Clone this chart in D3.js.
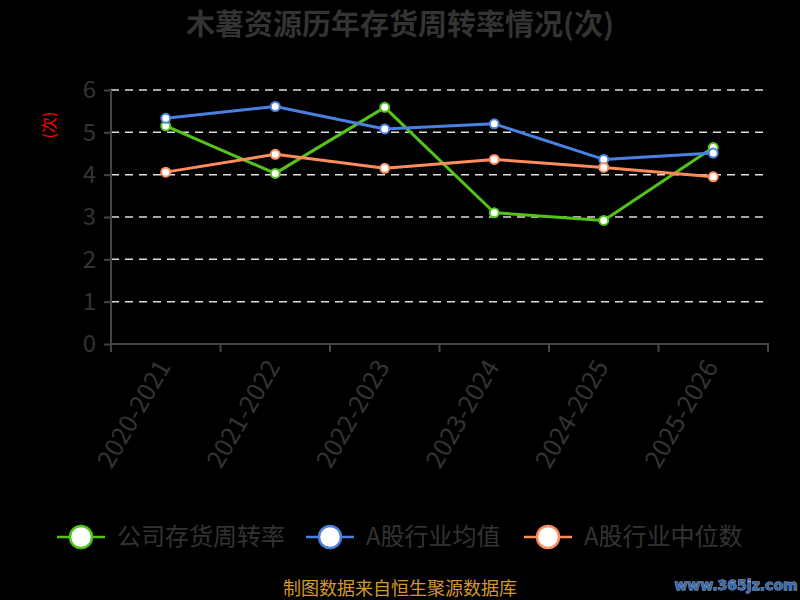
<!DOCTYPE html>
<html><head><meta charset="utf-8">
<script src="https://cdn.jsdelivr.net/npm/d3@7"></script>
<style>html,body{margin:0;padding:0;background:#000;}svg{display:block;}</style>
</head><body>
<svg id="c" width="800" height="600"></svg>
<script>
const categories = ["2020-2021","2021-2022","2022-2023","2023-2024","2024-2025","2025-2026"];
const companyTurnover = [5.15, 4.03, 5.59, 3.10, 2.92, 4.64];
const industryMean = [5.33, 5.61, 5.08, 5.20, 4.36, 4.51];
const industryMedian = [4.06, 4.48, 4.15, 4.36, 4.17, 3.95];
const yTicks = [0,1,2,3,4,5,6];
const seriesNames = ["公司存货周转率","A股行业均值","A股行业中位数"];
const seriesColors = ["#52c41a","#4a80e0","#ff8c5a"];

const series = [companyTurnover, industryMean, industryMedian];
const font = "'Noto Sans CJK SC','Noto Sans',sans-serif";
const svg = d3.select("#c");
svg.append("rect").attr("width",800).attr("height",600).attr("fill","#000");

const L=111, R=768, T=90, B=344;
const x = d3.scaleBand().domain(categories).range([L,R]);
const y = d3.scaleLinear().domain([0,6]).range([B,T]);

// title
svg.append("text").attr("x",400).attr("y",35).attr("text-anchor","middle")
  .attr("font-family",font).attr("font-weight","bold").attr("font-size",29)
  .attr("fill","#333").text("木薯资源历年存货周转率情况(次)");

// grid
svg.append("g").selectAll("line").data(yTicks.filter(d=>d>0)).join("line")
  .attr("x1",L).attr("x2",R).attr("y1",d=>y(d)).attr("y2",d=>y(d))
  .attr("stroke","#ddd").attr("stroke-width",1.5).attr("stroke-dasharray","8,6");

// y axis
const ya = svg.append("g").attr("transform",`translate(${L},0)`)
  .call(d3.axisLeft(y).tickValues(yTicks).tickFormat(d3.format("d")).tickSize(7).tickPadding(8));
ya.select(".domain").attr("stroke","#444").attr("stroke-width",2).attr("d",`M0,${T}V${B+8}`);
ya.selectAll(".tick line").attr("stroke","#444").attr("stroke-width",2);
ya.selectAll("text").attr("fill","#333").attr("font-size",24).attr("font-family",font);

// x axis
const xa = svg.append("g").attr("transform",`translate(0,${B})`)
  .call(d3.axisBottom(x).tickSize(0).tickFormat(""));
xa.select(".domain").attr("stroke","#444").attr("stroke-width",2).attr("d",`M${L},8V0H${R}V8`);
const bounds = categories.map(c=>x(c)).concat([R]);
xa.selectAll(".bt").data(bounds).join("line").attr("class","bt")
  .attr("x1",d=>d).attr("x2",d=>d).attr("y1",0).attr("y2",8)
  .attr("stroke","#444").attr("stroke-width",2);
svg.append("g").selectAll("text").data(categories).join("text")
  .attr("transform",d=>`translate(${x(d)+x.bandwidth()/2-2},${B+18}) rotate(-60)`)
  .attr("text-anchor","end").attr("dy","0.35em")
  .attr("font-family",font).attr("font-size",25).attr("fill","#333").text(d=>d);

// y label
svg.append("text").attr("transform","translate(49,125) rotate(-90)")
  .attr("text-anchor","middle").attr("dy","0.35em")
  .attr("font-family",font).attr("font-size",16).attr("fill","red").text("(次)");

// lines
const line = d3.line().x((d,i)=>x(categories[i])+x.bandwidth()/2).y(d=>y(d));
series.forEach((s,k)=>{
  svg.append("path").datum(s).attr("d",line).attr("fill","none")
    .attr("stroke",seriesColors[k]).attr("stroke-width",3).attr("stroke-linejoin","round");
});
series.forEach((s,k)=>{
  svg.append("g").selectAll("circle").data(s).join("circle")
    .attr("cx",(d,i)=>x(categories[i])+x.bandwidth()/2).attr("cy",d=>y(d)).attr("r",4.5)
    .attr("fill","#fff").attr("stroke",seriesColors[k]).attr("stroke-width",2);
});

// legend
const legX = [57, 306, 524];
seriesNames.forEach((n,k)=>{
  const g = svg.append("g").attr("transform",`translate(${legX[k]},537)`);
  g.append("line").attr("x1",0).attr("x2",48).attr("stroke",seriesColors[k]).attr("stroke-width",2.5);
  g.append("circle").attr("cx",24).attr("r",11).attr("fill","#fff").attr("stroke",seriesColors[k]).attr("stroke-width",2.5);
  g.append("text").attr("x",60).attr("dy","0.35em").attr("font-family",font)
    .attr("font-size",24).attr("fill","#333").text(n);
});

// footer
svg.append("text").attr("x",400).attr("y",595).attr("text-anchor","middle")
  .attr("font-family",font).attr("font-size",18).attr("fill","#d4982a").text("制图数据来自恒生聚源数据库");
svg.append("text").attr("x",736).attr("y",590).attr("text-anchor","middle")
  .attr("font-family","'DejaVu Sans',sans-serif").attr("font-weight","bold").attr("font-size",14)
  .attr("fill","#3c6aa8").attr("stroke","#a8c0e0").attr("stroke-width",0.8).attr("paint-order","stroke")
  .text("www.365jz.com");
</script>
</body></html>
